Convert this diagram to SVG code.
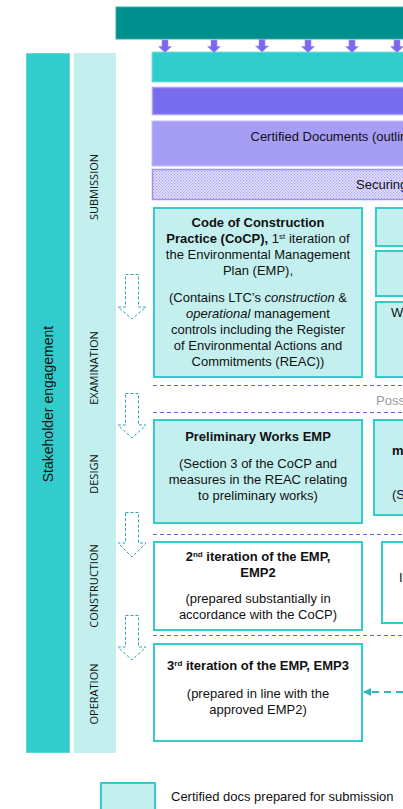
<svg xmlns="http://www.w3.org/2000/svg" width="403" height="809" viewBox="0 0 403 809">
<style>
  .t { font-family: "Liberation Sans", Arial, sans-serif; font-size: 13px; fill: #111; }
  .c { text-anchor: middle; }
  .b { font-weight: bold; }
  .i { font-style: italic; }
  .phase { font-family: "Open Sans", "DejaVu Sans", sans-serif; font-size: 11px; fill: #111; text-anchor: middle; }
  .box { fill: #c3f0ee; stroke: #33cccc; stroke-width: 2; }
  .wbox { fill: #ffffff; stroke: #33cccc; stroke-width: 2; }
  .pdash { stroke: #6a5fe0; stroke-width: 1; stroke-dasharray: 4 3; fill: none; }
  .down { fill: #ffffff; stroke: #2aa7b0; stroke-width: 1; stroke-dasharray: 3 2; }
  .parrow { fill: #7b68ee; stroke: #9d8ff3; stroke-width: 0.6; }
</style>
<defs>
  <pattern id="dots" width="3" height="3" patternUnits="userSpaceOnUse">
    <rect width="3" height="3" fill="#e4e1fb"/>
    <rect x="0" y="0" width="1.2" height="1.2" fill="#a79ef2"/>
    <rect x="1.5" y="1.5" width="1.2" height="1.2" fill="#a79ef2"/>
  </pattern>
  <marker id="ah" markerWidth="8" markerHeight="8" refX="7" refY="4" orient="auto" markerUnits="userSpaceOnUse">
    <path d="M0,0 L8,4 L0,8 z" fill="#2ab8bb"/>
  </marker>
</defs>

<g id="top-bar"><rect x="116" y="7" width="300" height="32" fill="#008f8f" stroke="#3aa9a9" stroke-width="1"/></g>
<g id="cyan-bar"><rect x="152" y="52" width="260" height="30" fill="#33cccc" stroke="#7fdede" stroke-width="1"/></g>
<g id="purple-bar"><rect x="152.5" y="87.5" width="260" height="27" fill="#776bee" stroke="#aaa0f4" stroke-width="1.5"/></g>
<g id="certified-docs">
  <rect x="152" y="121" width="260" height="45" fill="#a69df4" stroke="#c4bdf7" stroke-width="1"/>
  <text class="t" x="250.5" y="141">Certified Documents (outline</text>
</g>
<g id="securing">
  <rect x="152.5" y="169.5" width="260" height="30" fill="url(#dots)" stroke="#9d94ee" stroke-width="1.5"/>
  <text class="t" x="356" y="189">Securing</text>
</g>

<g id="stakeholder">
  <rect x="26.5" y="53.5" width="43" height="699" fill="#33cccc" stroke="#5fd6d6" stroke-width="1"/>
  <text class="t" style="font-size:14px" text-anchor="middle" transform="translate(53,404) rotate(-90)">Stakeholder engagement</text>
</g>
<g id="phases">
  <rect x="74" y="53" width="42" height="700" fill="#c3f0ee"/>
  <text class="phase" transform="translate(98,187) rotate(-90)">SUBMISSION</text>
  <text class="phase" transform="translate(98,368) rotate(-90)">EXAMINATION</text>
  <text class="phase" transform="translate(98,474) rotate(-90)">DESIGN</text>
  <text class="phase" transform="translate(98,586) rotate(-90)">CONSTRUCTION</text>
  <text class="phase" transform="translate(98,694) rotate(-90)">OPERATION</text>
</g>

<g id="connectors">
  <g id="purple-arrows">
    <path class="parrow" d="M162,40 h6 v6.5 h3.5 l-6.5,6 l-6.5,-6 h3.5 z"/>
    <path class="parrow" d="M211,40 h6 v6.5 h3.5 l-6.5,6 l-6.5,-6 h3.5 z"/>
    <path class="parrow" d="M259,39.5 h6 v6.5 h3.5 l-6.5,6 l-6.5,-6 h3.5 z"/>
    <path class="parrow" d="M305,40 h6 v6.5 h3.5 l-6.5,6 l-6.5,-6 h3.5 z"/>
    <path class="parrow" d="M349,40 h6 v6.5 h3.5 l-6.5,6 l-6.5,-6 h3.5 z"/>
    <path class="parrow" d="M394,40 h6 v6.5 h3.5 l-6.5,6 l-6.5,-6 h3.5 z"/>
  </g>
  <g id="phase-arrows">
    <path class="down" d="M125.5,274.5 h13 v32.5 h7.5 l-14,12 l-14,-12 h7.5 z"/>
    <path class="down" d="M125.5,393.5 h13 v31.5 h7.5 l-14,13 l-14,-13 h7.5 z"/>
    <path class="down" d="M125.5,512.5 h13 v30.5 h7.5 l-14,14 l-14,-14 h7.5 z"/>
    <path class="down" d="M125.5,615.5 h13 v31.5 h7.5 l-14,13 l-14,-13 h7.5 z"/>
  </g>
  <g id="phase-dividers">
    <line class="pdash" x1="153" y1="385.5" x2="403" y2="385.5"/>
    <line class="pdash" x1="153" y1="412.5" x2="403" y2="412.5"/>
    <line class="pdash" x1="153" y1="534.5" x2="403" y2="534.5"/>
    <line class="pdash" x1="153" y1="635.5" x2="403" y2="635.5"/>
  </g>
  <line x1="403" y1="692" x2="364" y2="692" stroke="#2ab8bb" stroke-width="2" stroke-dasharray="7 5" marker-end="url(#ah)"/>
</g>

<text class="t" x="376" y="405" style="fill:#9a9a9a">Poss</text>

<g id="cocp">
  <rect class="box" x="154" y="208" width="208" height="169"/>
  <text class="t c b" x="258" y="227">Code of Construction</text>
  <text class="t c" x="258" y="243"><tspan class="b">Practice (CoCP),</tspan> 1<tspan font-size="8" baseline-shift="super">st</tspan> iteration of</text>
  <text class="t c" x="258" y="259">the Environmental Management</text>
  <text class="t c" x="258" y="275">Plan (EMP),</text>
  <text class="t c" x="258" y="302">(Contains LTC’s <tspan class="i">construction</tspan> &amp;</text>
  <text class="t c" x="258" y="318"><tspan class="i">operational</tspan> management</text>
  <text class="t c" x="258" y="334">controls including the Register</text>
  <text class="t c" x="258" y="350">of Environmental Actions and</text>
  <text class="t c" x="258" y="366">Commitments (REAC))</text>
</g>
<g id="right-box-1"><rect class="box" x="376" y="208" width="40" height="38"/></g>
<g id="right-box-2"><rect class="box" x="376" y="251" width="40" height="45"/></g>
<g id="right-box-3">
  <rect class="box" x="376" y="302" width="40" height="75"/>
  <text class="t" x="391" y="317">W</text>
</g>

<g id="preliminary-works">
  <rect class="box" x="154" y="420" width="208" height="103"/>
  <text class="t c b" x="258" y="441">Preliminary Works EMP</text>
  <text class="t c" x="258" y="468">(Section 3 of the CoCP and</text>
  <text class="t c" x="258" y="484">measures in the REAC relating</text>
  <text class="t c" x="258" y="500">to preliminary works)</text>
</g>
<g id="right-box-4">
  <rect class="box" x="374" y="420" width="40" height="95"/>
  <text class="t b" x="392" y="455">m</text>
  <text class="t" x="392" y="499">(S</text>
</g>

<g id="emp2">
  <rect class="wbox" x="154" y="542" width="208" height="88"/>
  <text class="t c b" x="258" y="561">2<tspan font-size="8" baseline-shift="super">nd</tspan> iteration of the EMP,</text>
  <text class="t c b" x="258" y="577">EMP2</text>
  <text class="t c" x="258" y="603">(prepared substantially in</text>
  <text class="t c" x="258" y="619">accordance with the CoCP)</text>
</g>
<g id="right-box-5">
  <rect class="wbox" x="382" y="542" width="40" height="81"/>
  <text class="t" x="399" y="582">I</text>
</g>

<g id="emp3">
  <rect class="wbox" x="154" y="644" width="208" height="97"/>
  <text class="t c b" x="258" y="670">3<tspan font-size="8" baseline-shift="super">rd</tspan> iteration of the EMP, EMP3</text>
  <text class="t c" x="258" y="698">(prepared in line with the</text>
  <text class="t c" x="258" y="714">approved EMP2)</text>
</g>

<g id="legend">
  <rect class="box" x="101" y="783" width="54" height="40"/>
  <text class="t" x="171" y="801">Certified docs prepared for submission</text>
</g>
</svg>
